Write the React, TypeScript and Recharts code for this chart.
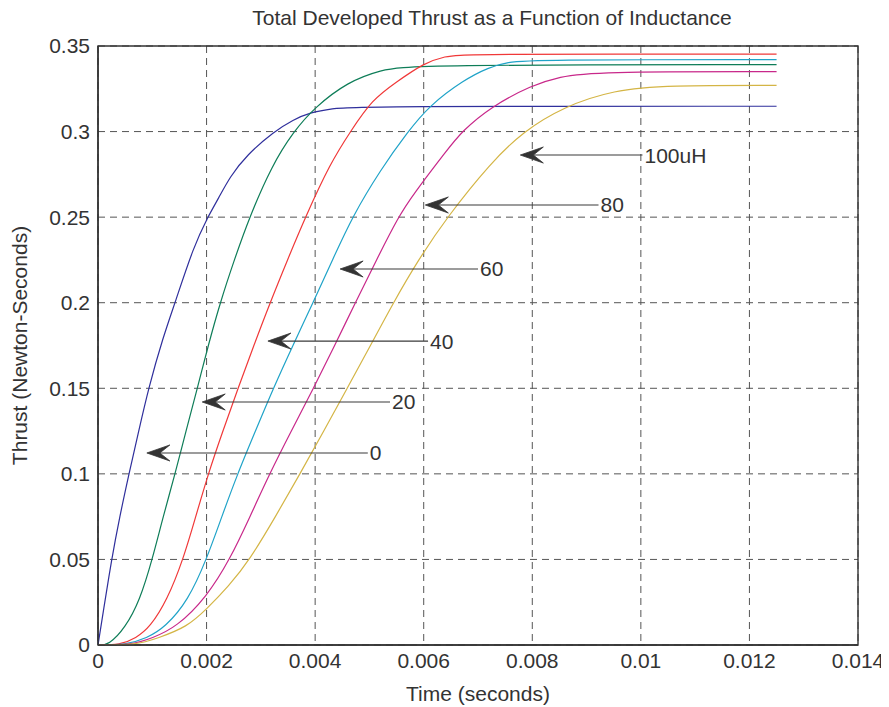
import React from 'react';
import { LineChart, Line, XAxis, YAxis, CartesianGrid, ReferenceArea, ReferenceLine } from 'recharts';

type Pt = { t: number; v: number };
const mk = (arr: number[][]): Pt[] => arr.map(([t, v]) => ({ t, v }));

const title = 'Total Developed Thrust as a Function of Inductance';
const xLabel = 'Time (seconds)';
const yLabel = 'Thrust (Newton-Seconds)';

const xTicks = [0, 0.002, 0.004, 0.006, 0.008, 0.01, 0.012, 0.014];
const yTicks = [0, 0.05, 0.1, 0.15, 0.2, 0.25, 0.3, 0.35];

const L0 = mk([[0,0],[0.0001,0.02],[0.00025,0.05],[0.0004,0.075],[0.00057,0.1],[0.00075,0.125],[0.00093,0.15],[0.0012,0.18],[0.00142,0.2],[0.00176,0.2327],[0.00202,0.25],[0.00222,0.261],[0.00243,0.2736],[0.00274,0.2863],[0.00324,0.3],[0.0036,0.307],[0.0039,0.311],[0.0043,0.3135],[0.0048,0.3148],[0.0125,0.3148]]);
const L20 = mk([[0,0],[0.0002,0],[0.0005,0.01],[0.00077,0.026],[0.001,0.05],[0.0012,0.075],[0.00142,0.1],[0.00162,0.125],[0.00183,0.15],[0.00203,0.175],[0.00225,0.2],[0.00251,0.225],[0.00279,0.25],[0.0032,0.28],[0.0036,0.3],[0.004,0.3144],[0.0046,0.329],[0.0052,0.336],[0.0058,0.3391],[0.0125,0.3391]]);
const L40 = mk([[0,0],[0.0004,0],[0.0007,0.004],[0.00096,0.0105],[0.00127,0.026],[0.00157,0.05],[0.0018,0.075],[0.00203,0.1],[0.0023,0.125],[0.00258,0.15],[0.00287,0.175],[0.00317,0.2],[0.00349,0.225],[0.00382,0.25],[0.00428,0.2816],[0.00465,0.3],[0.00505,0.3187],[0.0055,0.329],[0.006,0.34],[0.0064,0.344],[0.00673,0.3453],[0.0125,0.3453]]);
const L60 = mk([[0,0],[0.0005,0],[0.0009,0.004],[0.00124,0.0105],[0.00166,0.026],[0.002,0.05],[0.00228,0.075],[0.00257,0.1],[0.0029,0.125],[0.00323,0.15],[0.00359,0.175],[0.00396,0.2],[0.00432,0.225],[0.00468,0.25],[0.0052,0.2775],[0.00571,0.3],[0.0061,0.315],[0.00673,0.33],[0.0072,0.3375],[0.00754,0.3405],[0.008,0.342],[0.0125,0.342]]);
const L80 = mk([[0,0],[0.0006,0],[0.001,0.004],[0.00145,0.0105],[0.002,0.028],[0.00243,0.05],[0.0028,0.075],[0.00316,0.1],[0.00356,0.125],[0.00397,0.15],[0.00436,0.175],[0.00474,0.2],[0.00513,0.225],[0.00553,0.25],[0.0058,0.263],[0.00643,0.2892],[0.0067,0.3],[0.00723,0.3144],[0.008,0.3272],[0.0085,0.332],[0.00912,0.335],[0.0125,0.335]]);
const L100 = mk([[0,0],[0.0007,0],[0.0011,0.004],[0.00164,0.0105],[0.002,0.021],[0.0024,0.034],[0.0028,0.05],[0.00327,0.075],[0.00372,0.1],[0.00416,0.125],[0.00459,0.15],[0.00502,0.175],[0.00544,0.2],[0.0059,0.225],[0.00643,0.25],[0.00723,0.2816],[0.00783,0.3],[0.00857,0.3144],[0.0095,0.3243],[0.0105,0.327],[0.0125,0.327]]);

const seriesList = [
  { name: '0uH', data: L0, color: '#2f2f9c' },
  { name: '20uH', data: L20, color: '#0e7d58' },
  { name: '40uH', data: L40, color: '#f03838' },
  { name: '60uH', data: L60, color: '#1fa3c8' },
  { name: '80uH', data: L80, color: '#c8288a' },
  { name: '100uH', data: L100, color: '#d4b545' },
];

// arrow annotations: label, tail time, tip time, thrust level
const arrowLabels = ['0', '20', '40', '60', '80', '100uH'];
const arrowTail = [0.00497, 0.00538, 0.00608, 0.0070, 0.00922, 0.01003];
const arrowTip = [0.0009, 0.00192, 0.00313, 0.00446, 0.00603, 0.00778];
const arrowY = [0.1122, 0.142, 0.1776, 0.2197, 0.2571, 0.2863];

const FONT = '"Liberation Sans", Arial, Helvetica, sans-serif';
const TXT = '#333333';

const makeArrowShape = (label: string) => (p: any) => {
  const { x1, y1, x2, y2 } = p;
  const tipX = Math.min(x1, x2);
  const tailX = Math.max(x1, x2);
  const y = (y1 + y2) / 2;
  return (
    <g>
      <line x1={tailX} y1={y} x2={tipX + 12} y2={y} stroke="#3a3a3a" strokeWidth={1.2} />
      <polygon
        points={`${tipX},${y} ${tipX + 23},${y - 8} ${tipX + 13},${y} ${tipX + 23},${y + 8}`}
        fill="#333"
        stroke="#333"
        strokeWidth={0.8}
        strokeLinejoin="round"
      />
      <text x={tailX + 2} y={y} dominantBaseline="central" fontSize={21} fill={TXT} fontFamily={FONT}>
        {label}
      </text>
    </g>
  );
};

export default function App() {
  return (
    <div style={{ position: 'relative', width: 881, height: 699, fontFamily: FONT, background: '#fff' }}>
      <div
        style={{
          position: 'absolute',
          left: 184,
          top: -2,
          width: 600,
          textAlign: 'center',
          fontSize: 21,
          lineHeight: '24px',
          color: TXT,
          fontFamily: FONT,
        }}
      >
        {title}
      </div>
      <LineChart width={881} height={699} margin={{ top: 38, right: 31, left: 0, bottom: 0 }}>
        <CartesianGrid stroke="#555" strokeDasharray="7 5" strokeWidth={1} />
        <XAxis
          type="number"
          dataKey="t"
          domain={[0, 0.014]}
          ticks={xTicks}
          tickFormatter={(v: number) => String(v)}
          allowDataOverflow
          height={62}
          tickLine={false}
          tickSize={6}
          axisLine={{ stroke: '#333', strokeWidth: 1.4 }}
          tick={{ fill: TXT, fontSize: 21, fontFamily: FONT }}
          label={{ value: xLabel, position: 'insideBottom', offset: 6, fill: TXT, fontSize: 21, fontFamily: FONT }}
        />
        <YAxis
          type="number"
          domain={[0, 0.35]}
          ticks={yTicks}
          tickFormatter={(v: number) => String(v)}
          allowDataOverflow
          width={90}
          tickLine={false}
          tickSize={6}
          axisLine={{ stroke: '#333', strokeWidth: 1.4 }}
          tick={{ fill: TXT, fontSize: 21, fontFamily: FONT }}
          label={{ value: yLabel, angle: -90, position: 'insideLeft', offset: 12, fill: TXT, fontSize: 21, fontFamily: FONT, style: { textAnchor: 'middle' } }}
        />
        <ReferenceArea x1={0} x2={0.014} y1={0} y2={0.35} fill="none" fillOpacity={0} stroke="#333" strokeWidth={1.4} />
        {seriesList.map((s) => (
          <Line
            key={s.name}
            data={s.data}
            dataKey="v"
            type="basis"
            stroke={s.color}
            strokeWidth={1.2}
            dot={false}
            activeDot={false}
            isAnimationActive={false}
          />
        ))}
        {arrowLabels.map((lab, i) => (
          <ReferenceLine
            key={lab}
            segment={[{ x: arrowTail[i], y: arrowY[i] }, { x: arrowTip[i], y: arrowY[i] }]}
            stroke="#333"
            shape={makeArrowShape(lab)}
          />
        ))}
      </LineChart>
    </div>
  );
}
